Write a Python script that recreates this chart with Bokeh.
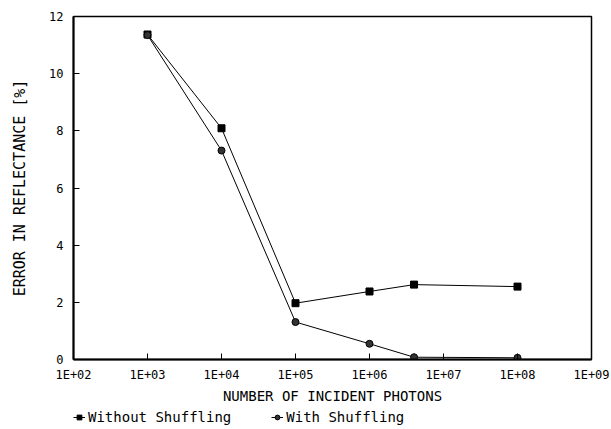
from bokeh.plotting import figure
from bokeh.layouts import column
from bokeh.models import (Range1d, FixedTicker, CustomJSTickFormatter, Legend, LegendItem)
from bokeh.embed import file_html
from bokeh.resources import INLINE

# Data
photons = [1e3, 1e4, 1e5, 1e6, 4e6, 1e8]
without_shuffling = [11.37, 8.09, 1.97, 2.38, 2.62, 2.55]
with_shuffling = [11.35, 7.31, 1.31, 0.55, 0.08, 0.06]
series_labels = ["Without Shuffling", "With Shuffling"]

x_ticks = [1e2, 1e3, 1e4, 1e5, 1e6, 1e7, 1e8, 1e9]
y_ticks = [0, 2, 4, 6, 8, 10, 12]

FONT = "DejaVu Sans Mono"

p = figure(width=611, height=406, x_axis_type="log",
           x_range=Range1d(1e2, 1e9), y_range=Range1d(0, 12),
           output_backend="svg", toolbar_location=None,
           min_border_left=73, min_border_right=20, min_border_top=16,
           min_border_bottom=0)

p.xgrid.visible = False
p.ygrid.visible = False
p.outline_line_color = "black"
p.outline_line_width = 1.5

p.xaxis.ticker = FixedTicker(ticks=x_ticks)
p.xaxis.formatter = CustomJSTickFormatter(code="""
    const e = Math.round(Math.log10(tick));
    return "1E+" + String(e).padStart(2, "0");
""")
p.yaxis.ticker = FixedTicker(ticks=y_ticks)

for ax in (p.xaxis[0], p.yaxis[0]):
    ax.axis_line_color = "black"
    ax.axis_line_width = 2
    ax.major_tick_in = 6
    ax.major_tick_out = 0
    ax.major_tick_line_color = "black"
    ax.minor_tick_line_color = None
    ax.major_label_text_font = FONT
    ax.major_label_text_font_size = "12px"
    ax.major_label_text_color = "black"
    ax.axis_label_text_font = FONT
    ax.axis_label_text_font_style = "normal"
    ax.axis_label_text_color = "black"

p.xaxis.axis_label = "NUMBER OF INCIDENT PHOTONS"
p.xaxis.axis_label_text_font_size = "14px"
p.xaxis.major_label_standoff = 8
p.xaxis.axis_label_standoff = 3

p.yaxis.axis_label = "ERROR IN REFLECTANCE [%]"
p.yaxis.axis_label_text_font_size = "15px"
p.yaxis.major_label_standoff = 10
p.yaxis.axis_label_standoff = 17

p.line(photons, without_shuffling, line_color="black", line_width=1)
p.scatter(photons, without_shuffling, marker="square", size=7,
          fill_color="black", line_color="black")
p.line(photons, with_shuffling, line_color="black", line_width=1)
p.scatter(photons, with_shuffling, marker="circle", size=7,
          fill_color="#333333", line_color="black")

# Legend strip below the chart (its sample renderers sit outside its view)
q = figure(width=611, height=23, x_range=Range1d(0, 1), y_range=Range1d(0, 1),
           output_backend="svg", toolbar_location=None,
           x_axis_location=None, y_axis_location=None,
           min_border_left=0, min_border_right=0, min_border_top=0,
           min_border_bottom=0)
q.grid.visible = False
q.outline_line_color = None
hidden = [5, 6]
ql1 = q.line(hidden, hidden, line_color="black", line_width=1)
qs1 = q.scatter(hidden, hidden, marker="square", size=6, fill_color="black", line_color="black")
ql2 = q.line(hidden, hidden, line_color="black", line_width=1)
qs2 = q.scatter(hidden, hidden, marker="circle", size=6, fill_color="#333333", line_color="black")

legend = Legend(items=[LegendItem(label=series_labels[0], renderers=[ql1, qs1]),
                       LegendItem(label=series_labels[1], renderers=[ql2, qs2])],
                orientation="horizontal", location=(0, 4),
                padding=0, margin=0, spacing=40, label_standoff=3,
                glyph_width=12, glyph_height=14, label_height=16,
                border_line_color=None, background_fill_alpha=0,
                label_text_font=FONT, label_text_font_size="14px",
                label_text_color="black")
q.add_layout(legend, "center")

open("out.html", "w").write(file_html(column(p, q, spacing=0), INLINE))
